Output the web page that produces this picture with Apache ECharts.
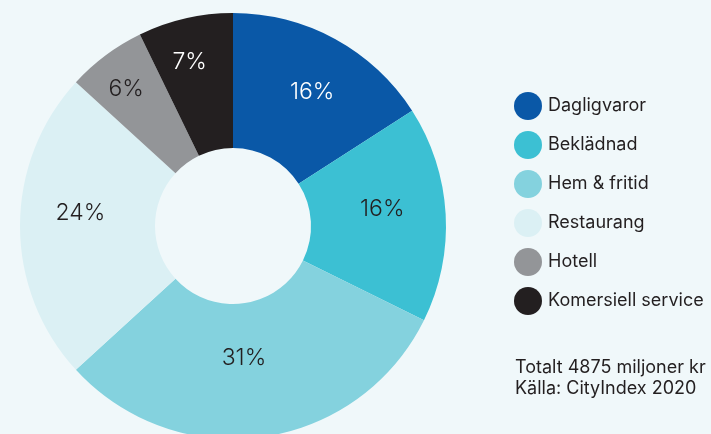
<!DOCTYPE html>
<html>
<head>
<meta charset="utf-8">
<script src="https://cdn.jsdelivr.net/npm/echarts@6/dist/echarts.min.js"></script>
<style>
  html, body { margin: 0; padding: 0; background: #f0f8fa; }
  #main { width: 711px; height: 434px; }
</style>
</head>
<body>
<div id="main"></div>
<script>
// kategorier och andelar (procent)
var categories = ['Dagligvaror', 'Beklädnad', 'Hem & fritid', 'Restaurang', 'Hotell', 'Komersiell service'];
var shares = [15.9, 16.4, 30.9, 23.6, 6.0, 7.2];
var colors = ['#0a58a7', '#3cc0d3', '#84d2de', '#dbf0f4', '#939598', '#231f20'];
var labelColors = ['#ffffff', '#231f20', '#231f20', '#231f20', '#231f20', '#ffffff'];
var footerLines = ['Totalt 4875 miljoner kr', 'Källa: CityIndex 2020'];

// små justeringar av etiketternas placering (px)
var labelNudge = [[8, -4], [1, -9], [-10, -15], [-4, -13], [-18, -18], [-10, -19]];

var FONT = 'Inter, "Noto Sans", sans-serif';

var pieData = categories.map(function (name, i) {
    return {
        name: name,
        value: shares[i],
        itemStyle: { color: colors[i] },
        label: { color: labelColors[i] }
    };
});

var chart = echarts.init(document.getElementById('main'));
var option = {
    backgroundColor: '#f0f8fa',
    animation: false,
    legend: {
        orient: 'vertical',
        left: 509,
        top: 87,
        icon: 'circle',
        itemWidth: 28,
        itemHeight: 28,
        itemGap: 11,
        selectedMode: false,
        data: categories,
        textStyle: {
            fontFamily: FONT,
            fontSize: 18,
            color: '#231f20',
            padding: [0, 0, 0, 1]
        }
    },
    graphic: [{
        type: 'text',
        left: 515,
        top: 357,
        style: {
            text: footerLines.join('\n'),
            font: '18px ' + FONT,
            fill: '#231f20',
            lineHeight: 21
        }
    }],
    series: [{
        type: 'pie',
        center: [233, 226],
        radius: [78, 213],
        startAngle: 90,
        silent: true,
        emphasis: { disabled: true },
        label: {
            show: true,
            position: 'inside',
            fontFamily: FONT,
            fontSize: 23,
            fontWeight: 300,
            formatter: function (p) {
                return Math.round(p.percent) + '%';
            }
        },
        labelLayout: function (p) {
            var n = labelNudge[p.dataIndex];
            return { dx: n[0], dy: n[1] };
        },
        labelLine: { show: false },
        data: pieData
    }]
};
chart.setOption(option);
</script>
</body>
</html>
